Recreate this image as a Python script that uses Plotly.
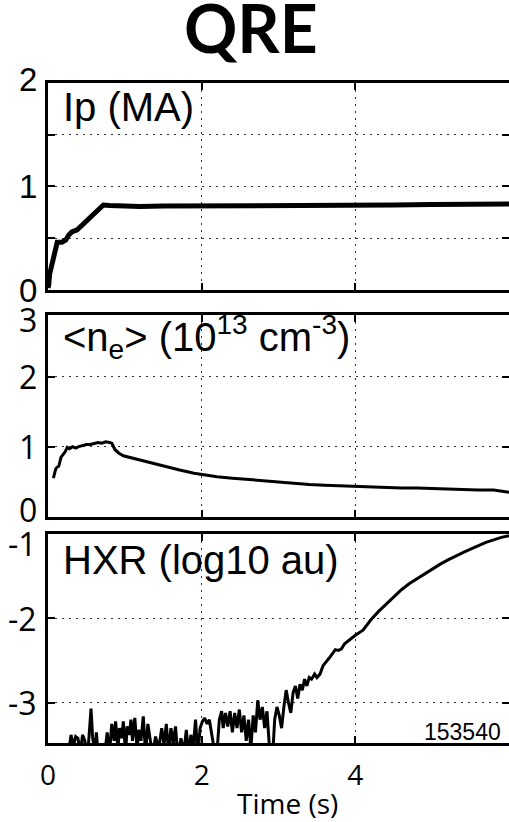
import plotly.graph_objects as go

# ---- data ----
t_ip = [0.00, 0.01, 0.02, 0.04, 0.06, 0.08, 0.10, 0.12, 0.18, 0.23, 0.27, 0.31, 0.38, 0.45,
        0.55, 0.65, 0.72, 0.80, 1.00, 1.20, 1.50, 2.00, 2.50, 3.00, 3.50, 4.00, 4.50, 5.00,
        5.50, 6.00]
ip = [0.02, 0.05, 0.15, 0.22, 0.30, 0.33, 0.42, 0.46, 0.46, 0.48, 0.53, 0.56, 0.58, 0.63,
      0.70, 0.77, 0.82, 0.815, 0.81, 0.805, 0.81, 0.81, 0.81, 0.815, 0.815, 0.82, 0.82,
      0.825, 0.83, 0.83]

t_ne = [0.07, 0.10, 0.12, 0.14, 0.17, 0.20, 0.22, 0.25, 0.28, 0.32, 0.36, 0.40, 0.45, 0.50,
        0.55, 0.60, 0.65, 0.70, 0.75, 0.80, 0.83, 0.87, 0.92, 0.98, 1.05, 1.15, 1.25, 1.35,
        1.50, 1.70, 1.90, 2.00, 2.20, 2.40, 2.60, 2.80, 3.00, 3.20, 3.40, 3.60, 3.80, 4.00,
        4.20, 4.40, 4.60, 4.80, 5.00, 5.20, 5.40, 5.60, 5.80, 5.90, 6.00]
ne = [0.55, 0.68, 0.71, 0.72, 0.85, 0.90, 0.92, 0.99, 0.97, 1.00, 0.98, 1.00, 1.02, 1.03,
      1.03, 1.05, 1.06, 1.05, 1.07, 1.06, 1.05, 0.96, 0.91, 0.87, 0.85, 0.82, 0.79, 0.76,
      0.72, 0.67, 0.62, 0.60, 0.57, 0.55, 0.53, 0.51, 0.49, 0.47, 0.46, 0.45, 0.44, 0.43,
      0.42, 0.41, 0.41, 0.41, 0.40, 0.40, 0.39, 0.38, 0.38, 0.37, 0.35]

t_hxr = [0.25, 0.30, 0.33, 0.36, 0.39, 0.42, 0.45, 0.48, 0.51, 0.54, 0.56, 0.58, 0.61, 0.63,
         0.66, 0.70, 0.74, 0.77, 0.80, 0.83, 0.86, 0.88, 0.91, 0.93, 0.96, 0.98, 1.01, 1.03,
         1.06, 1.08, 1.10, 1.13, 1.16, 1.18, 1.21, 1.24, 1.27, 1.30, 1.33, 1.36, 1.40, 1.44,
         1.48, 1.51, 1.54, 1.57, 1.60, 1.63, 1.66, 1.69, 1.73, 1.77, 1.80, 1.83, 1.86, 1.89,
         1.92, 1.95, 1.98, 2.01, 2.04, 2.07, 2.10, 2.13, 2.16, 2.19, 2.23, 2.26, 2.28, 2.31,
         2.34, 2.37, 2.40, 2.43, 2.46, 2.49, 2.52, 2.55, 2.58, 2.61, 2.64, 2.67, 2.70, 2.73,
         2.76, 2.79, 2.82, 2.85, 2.88, 2.92, 2.95, 2.98, 3.01, 3.04, 3.07, 3.10, 3.13, 3.16,
         3.19, 3.22, 3.25, 3.28, 3.31, 3.34, 3.37, 3.40, 3.43, 3.47, 3.50, 3.54, 3.58, 3.62,
         3.66, 3.70, 3.74, 3.78, 3.82, 3.86, 3.90, 3.95, 4.00, 4.10, 4.20, 4.30, 4.40, 4.50,
         4.60, 4.70, 4.80, 4.90, 5.00, 5.10, 5.20, 5.30, 5.40, 5.50, 5.60, 5.70, 5.80, 5.90,
         6.00]
hxr = [-3.70, -3.38, -3.52, -3.40, -3.42, -3.60, -3.38, -3.45, -3.70, -3.30, -3.07, -3.40,
       -3.60, -3.35, -3.70, -3.50, -3.60, -3.35, -3.60, -3.25, -3.45, -3.22, -3.55, -3.30,
       -3.42, -3.22, -3.60, -3.28, -3.38, -3.20, -3.45, -3.18, -3.55, -3.32, -3.45, -3.16,
       -3.60, -3.25, -3.45, -3.62, -3.40, -3.55, -3.30, -3.50, -3.25, -3.60, -3.30, -3.48,
       -3.28, -3.65, -3.42, -3.58, -3.32, -3.60, -3.38, -3.55, -3.20, -3.62, -3.30, -3.22,
       -3.18, -3.25, -3.20, -3.35, -3.55, -3.70, -3.20, -3.10, -3.30, -3.12, -3.28, -3.10,
       -3.35, -3.12, -3.30, -3.08, -3.35, -3.15, -3.45, -3.20, -3.55, -3.15, -3.35, -2.97,
       -3.20, -3.05, -3.30, -3.10, -3.50, -3.70, -3.20, -3.05, -3.15, -3.30, -3.05, -2.85,
       -3.00, -3.12, -2.88, -2.80, -2.95, -2.78, -2.85, -2.72, -2.80, -2.70, -2.72, -2.66,
       -2.70, -2.66, -2.56, -2.52, -2.47, -2.42, -2.37, -2.38, -2.36, -2.30, -2.27, -2.23,
       -2.20, -2.14, -2.02, -1.92, -1.83, -1.74, -1.66, -1.59, -1.53, -1.47, -1.41, -1.36,
       -1.31, -1.26, -1.22, -1.18, -1.14, -1.10, -1.07, -1.04, -1.02]

x_ticks = [0, 2, 4]
x_ticklabels = ["0", "2", "4"]
y1_grid = [0, 0.5, 1, 1.5, 2]
y1_labels = [(0, "0"), (1, "1"), (2, "2")]
y2_grid = [0, 1, 2]
y2_labels = [(0, "0"), (1, "1"), (2, "2")]
y3_grid = [-3, -2, -1]
y3_labels = [(-3, "-3"), (-2, "-2"), (-1, "-1")]

W, H = 509, 822
XL = 48 / W


def py(px):
    return 1 - px / H


fig = go.Figure()
fig.add_trace(go.Scatter(x=t_ip, y=ip, xaxis="x", yaxis="y", mode="lines",
                         line=dict(color="black", width=5), showlegend=False))
fig.add_trace(go.Scatter(x=t_ne, y=ne, xaxis="x2", yaxis="y2", mode="lines",
                         line=dict(color="black", width=3), showlegend=False))
fig.add_trace(go.Scatter(x=t_hxr, y=hxr, xaxis="x3", yaxis="y3", mode="lines",
                         line=dict(color="black", width=3), showlegend=False))

grid = dict(showgrid=True, gridcolor="#333333", gridwidth=1, griddash="2px,5px")
common = dict(showline=True, linecolor="black", linewidth=3, mirror="ticks",
              ticks="inside", ticklen=7, tickwidth=2, tickcolor="black",
              zeroline=False, automargin=False, tickmode="array", **grid)

fig.update_layout(
    width=W, height=H, margin=dict(l=0, r=0, t=0, b=0),
    paper_bgcolor="white", plot_bgcolor="white",
    xaxis=dict(domain=[XL, 1], range=[0, 6], anchor="y", tickvals=x_ticks,
               showticklabels=False, **common),
    xaxis2=dict(domain=[XL, 1], range=[0, 6], anchor="y2", tickvals=x_ticks,
                showticklabels=False, **common),
    xaxis3=dict(domain=[XL, 1], range=[0, 6], anchor="y3", tickvals=x_ticks,
                ticktext=x_ticklabels, ticklabelstandoff=5,
                tickfont=dict(family="Open Sans", size=28, color="black"), **common),
    yaxis=dict(domain=[py(290), py(82.7)], range=[0, 2], anchor="x", tickvals=y1_grid,
               showticklabels=False, **common),
    yaxis2=dict(domain=[py(516.7), py(315)], range=[0, 2.88], anchor="x2", tickvals=y2_grid,
                showticklabels=False, **common),
    yaxis3=dict(domain=[py(743.3), py(534)], range=[-3.48, -1], anchor="x3", tickvals=y3_grid,
                showticklabels=False, **common),
)

ann = []
# y tick labels, placed at their axis values (small nudges as in the reference)
nudges = {("y", 2): 3, ("y2", 0): 7, ("y3", -1): -9}
for yref, labels, fam in [("y", y1_labels, "Liberation Sans"),
                          ("y2", y2_labels, "Open Sans"),
                          ("y3", y3_labels, "Open Sans")]:
    for val, txt in labels:
        ann.append(dict(text=txt, x=XL, xref="paper", y=val, yref=yref,
                        xanchor="right", yanchor="middle", xshift=-9,
                        yshift=nudges.get((yref, val), 0), showarrow=False,
                        font=dict(family=fam, size=32 if fam != "Liberation Sans" else 33,
                                  color="black")))
# top label of the density panel sits just above its axis range
ann.append(dict(text="3", x=XL, xref="paper", y=py(319), yref="paper",
                xanchor="right", yanchor="middle", xshift=-9, showarrow=False,
                font=dict(family="Open Sans", size=32, color="black")))

ann.append(dict(text="<b>QRE</b>", x=251 / W, y=py(28), xref="paper", yref="paper",
                showarrow=False, xanchor="center", yanchor="middle",
                font=dict(family="Lato", size=66, color="black", weight=900)))
lab_font = dict(family="Liberation Sans", size=40, color="black")
ann.append(dict(text="Ip (MA)", x=61 / W, y=py(107), xref="paper", yref="paper",
                showarrow=False, xanchor="left", yanchor="middle", font=lab_font))
ann.append(dict(text="&lt;n<sub>e</sub>&gt; (10<sup>13</sup> cm<sup>-3</sup>)", x=61 / W,
                y=py(337), xref="paper", yref="paper",
                showarrow=False, xanchor="left", yanchor="middle", font=lab_font))
ann.append(dict(text="HXR (log10 au)", x=61 / W, y=py(560), xref="paper", yref="paper",
                showarrow=False, xanchor="left", yanchor="middle", font=lab_font))
ann.append(dict(text="153540", x=503 / W, y=py(732), xref="paper", yref="paper",
                showarrow=False, xanchor="right", yanchor="middle",
                font=dict(family="Liberation Sans", size=23, color="black")))
ann.append(dict(text="Time (s)", x=287 / W, y=py(803), xref="paper", yref="paper",
                showarrow=False, xanchor="center", yanchor="middle",
                font=dict(family="Open Sans", size=28, color="black")))
fig.update_layout(annotations=ann)

fig.write_html("out.html")
